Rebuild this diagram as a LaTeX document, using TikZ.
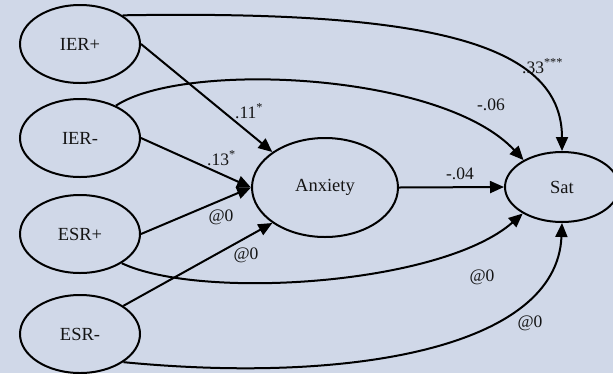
\documentclass[tikz,border=0pt]{standalone}
\usepackage{fontspec}
\setmainfont{Liberation Serif}
\usetikzlibrary{shapes.geometric,arrows.meta}
\definecolor{bg}{RGB}{208,216,232}
\definecolor{ink}{RGB}{20,20,20}
\begin{document}
\begin{tikzpicture}[x=1pt,y=-1pt,
  latent/.style={draw=black, ellipse, line width=2pt, inner sep=0pt, text=ink,
                 font=\fontsize{18.5}{20}\selectfont},
  small/.style={latent, minimum width=120pt, minimum height=78pt},
  link/.style={line width=2pt, draw=black, -{Triangle[length=14pt,width=12pt]}},
  coef/.style={font=\fontsize{17.5}{19}\selectfont, inner sep=0pt, text=ink}]
\fill[bg] (0,0) rectangle (613,373);
\useasboundingbox (0,0) rectangle (613,373);

\node[small] (ierp) at (80,44) {IER+};
\node[small] (iern) at (80,138) {IER-};
\node[small] (esrp) at (80,234) {ESR+};
\node[small] (esrn) at (80,334) {ESR-};
\node[latent, minimum width=146pt, minimum height=99pt] (anx) at (325,187.5) {Anxiety};
\node[latent, minimum width=114pt, minimum height=70pt] (sat) at (562,187) {Sat};

\draw[link] (ierp.34) .. controls +(300,-5) and +(0,-110) .. (sat.north);
\draw[link] (iern.42) .. controls +(68,-45) and +(-82,-88) .. (sat.145);
\draw[link] (ierp.east) -- (anx.146);
\draw[link] (iern.east) -- (anx.west);
\draw[link] (esrp.east) -- (anx.west);
\draw[link] (esrn.33) -- (anx.214);
\draw[link] (anx.east) -- (sat.west);
\draw[link] (esrp.-35) .. controls +(78,37) and +(-82,72) .. (sat.214);
\draw[link] (esrn.-33) .. controls +(227,22) and +(-5,125) .. (sat.south);

\node[coef, anchor=west] (l1) at (522,66) {.33\textsuperscript{***}};
\node[coef] (l2) at (491,105) {-.06};
\node[coef, anchor=west] (l3) at (235,111) {.11\textsuperscript{*}};
\node[coef, anchor=west] (l4) at (207,158) {.13\textsuperscript{*}};
\node[coef] (l5) at (221,217) {@0};
\node[coef] (l6) at (246,255) {@0};
\node[coef] (l7) at (460,174) {-.04};
\node[coef] (l8) at (482,277) {@0};
\node[coef] (l9) at (530,323) {@0};
\end{tikzpicture}
\end{document}
